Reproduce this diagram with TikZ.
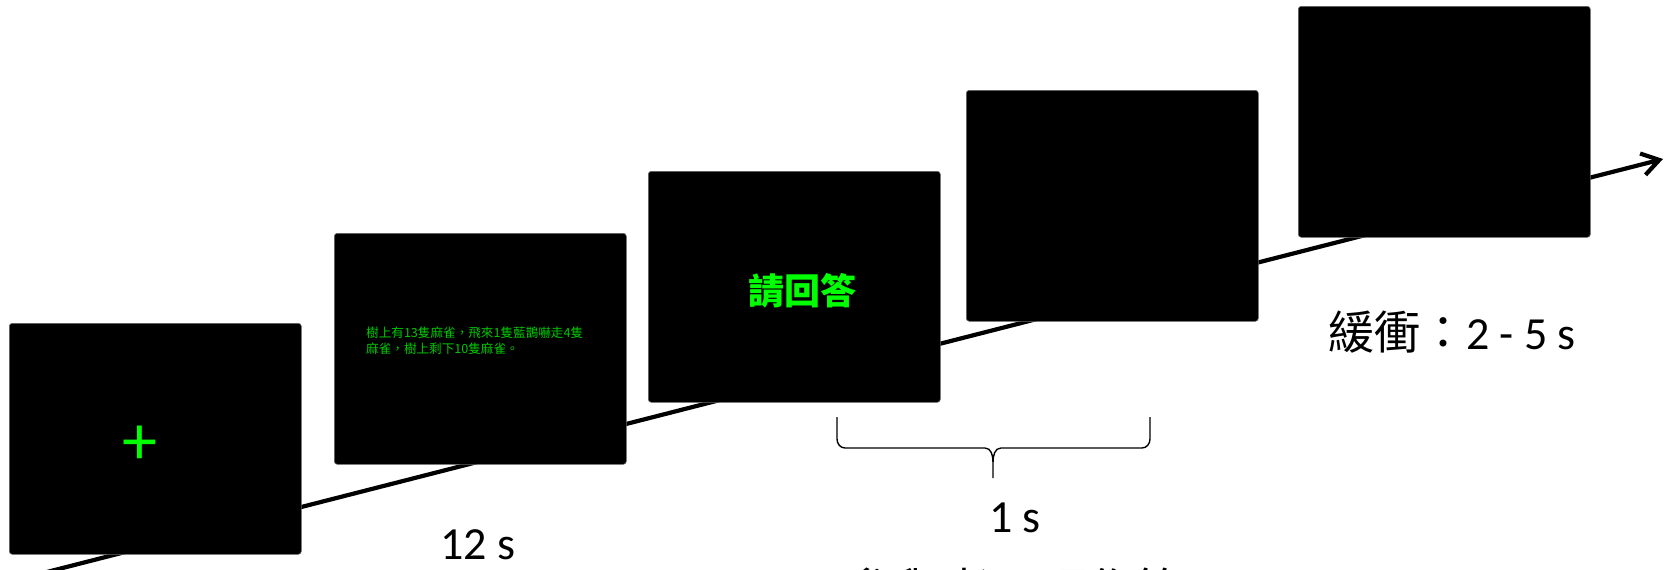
\documentclass[tikz,border=0pt]{standalone}
\usepackage{fontspec}
\setmainfont{Carlito}
\newfontfamily\cjk{Noto Sans CJK TC}
\usetikzlibrary{arrows.meta}
\definecolor{scrgreen}{RGB}{0,255,0}
\definecolor{txtgreen}{RGB}{0,200,0}
\tikzset{
  screen/.style={rectangle, fill=black, draw=black!60, line width=0.6pt, rounded corners=3pt,
    minimum width=292pt, minimum height=231pt, inner sep=0pt, anchor=north west},
  timeline/.style={line width=4.2pt, -{Straight Barb[length=17pt,width=22pt]}},
  lbl/.style={font=\fontsize{46}{50}\selectfont, inner sep=0pt},
  bracepath/.style={line width=1.4pt}
}
\begin{document}
\begin{tikzpicture}[x=1pt,y=-1pt]
\useasboundingbox (0,0) rectangle (1671,570);
% timeline
\coordinate (tstart) at (0,584);
\coordinate (tend) at (1663,159);
\draw[timeline] (tstart) -- (tend);
% screens
\node[screen] (s1) at (9,323) {};
\node[screen] (s2) at (334,233) {};
\node[screen] (s3) at (648,171) {};
\node[screen] (s4) at (966,90) {};
\node[screen] (s5) at (1298,6) {};
% screen contents
\node[text=scrgreen, font=\fontsize{70}{70}\selectfont, inner sep=0pt] (plus) at (140,445) {+};
\node[text=txtgreen, font=\cjk\fontsize{12.6}{16}\selectfont, align=left, anchor=west, inner sep=0pt] (story) at (366,341)
  {樹上有13隻麻雀，飛來1隻藍鵲嚇走4隻\\麻雀，樹上剩下10隻麻雀。};
\node[text=scrgreen, font=\cjk\bfseries\fontsize{36}{36}\selectfont, inner sep=0pt] (ask) at (802,291) {請回答};
% labels
\node[lbl] (t12) at (478,545) {12 s};
\node[lbl] (t1) at (1015,518) {1 s};
\node[font=\fontsize{46}{48}\selectfont, inner sep=0pt] (buf) at (1452,332) {{\cjk 緩衝：}2 - 5 s};
\node[font=\cjk\fontsize{48}{52}\selectfont, inner sep=0pt] (resp) at (1015,590) {參與者口頭作答};
% brace
\coordinate (bl) at (837,417);
\coordinate (br) at (1150,417);
\coordinate (bm) at (993,478);
\draw[bracepath] (bl) -- ++(0,22) to[out=-90,in=180] ++(8,9) -- (985,448)
  to[out=0,in=90] (993,462) -- (bm);
\draw[bracepath] (br) -- ++(0,22) to[out=-90,in=0] ++(-8,9) -- (1001,448)
  to[out=180,in=90] (993,462);
\end{tikzpicture}
\end{document}
